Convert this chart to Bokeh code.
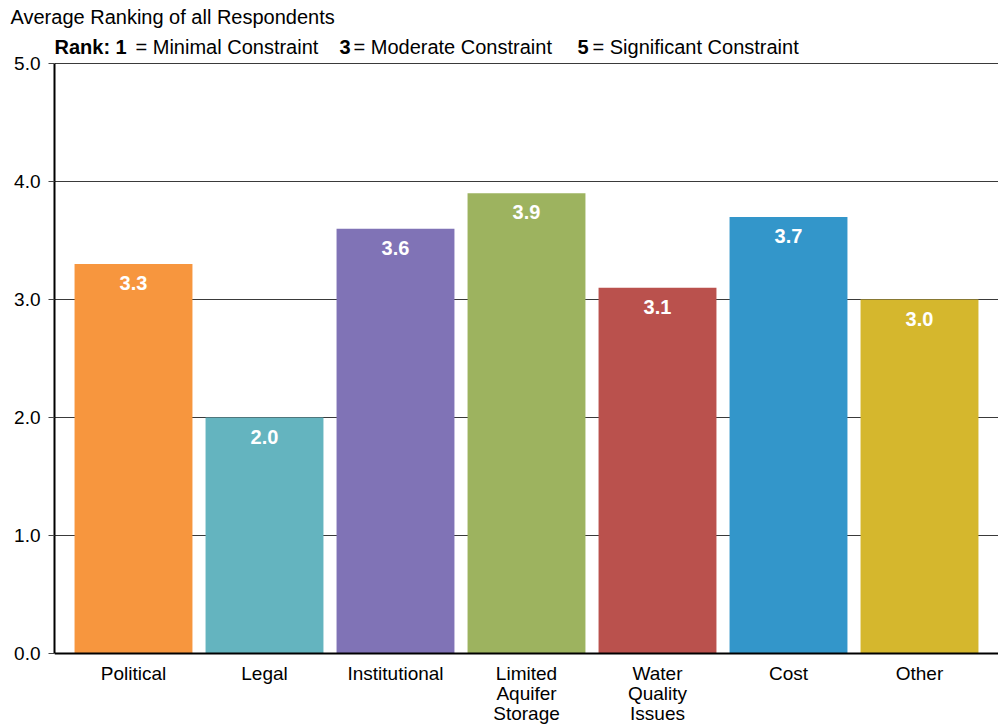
from bokeh.plotting import figure
from bokeh.models import Range1d, FixedTicker, ColumnDataSource, PrintfTickFormatter, Span
from bokeh.core.properties import value
from bokeh.embed import file_html
from bokeh.resources import INLINE

categories = ["Political", "Legal", "Institutional", "Limited\nAquifer\nStorage",
              "Water\nQuality\nIssues", "Cost", "Other"]
scores = [3.3, 2.0, 3.6, 3.9, 3.1, 3.7, 3.0]
bar_colors = ["#F7963E", "#64B4BF", "#8073B6", "#9DB35F", "#BA514D", "#3396CA", "#D5B72D"]
y_ticks = [0, 1, 2, 3, 4, 5]
grid_ticks = [1, 2, 3, 4, 5]

title_text = "Average Ranking of all Respondents"
subtitle_parts = ["Rank: 1", "= Minimal Constraint", "3", "= Moderate Constraint",
                  "5", "= Significant Constraint"]
subtitle_styles = ["bold", "normal", "bold", "normal", "bold", "normal"]
FONT = "Liberation Sans"

W, H = 998, 725
LEFT, TOP = 54, 30          # frame left / top in pixels
Y0_PX, Y5_PX = 653, 63      # pixel rows of value 0 and value 5
PX_PER_UNIT = (Y0_PX - Y5_PX) / 5.0
CAT_PX = 131.0              # pixels per category
FIRST_CENTER = 133          # pixel column of first category center

x_start = (LEFT - FIRST_CENTER) / CAT_PX
x_end = (W - FIRST_CENTER) / CAT_PX
y_start = -(H - Y0_PX) / PX_PER_UNIT
y_end = 5 + (Y5_PX - TOP) / PX_PER_UNIT

xs = list(range(len(categories)))
src = ColumnDataSource(dict(x=xs, top=scores, color=bar_colors, cat=categories,
                            base=[0] * len(xs),
                            label=[f"{v:.1f}" for v in scores]))

p = figure(width=W, height=H, output_backend="svg", toolbar_location=None,
           x_range=Range1d(x_start, x_end), y_range=Range1d(y_start, y_end),
           min_border_left=LEFT, min_border_right=0, min_border_top=TOP, min_border_bottom=0)
p.outline_line_color = None

# title (outside the frame, above)
p.title.text = title_text
p.title.align = "left"
p.title.offset = -44
p.title.standoff = 6
p.title.text_font = FONT
p.title.text_font_size = "20px"
p.title.text_font_style = "normal"
p.title.text_color = "black"

# bars and values
p.vbar(x="x", top="top", width=0.9, fill_color="color", line_color=None, source=src)
p.text(x="x", y="top", text="label", source=src, text_align="center",
       text_baseline="alphabetic", y_offset=19, text_color="white",
       text_font_style="bold", text_font_size="20px", text_font=value(FONT))

# category labels below the baseline
p.text(x="x", y="base", text="cat", source=src, text_align="center",
       text_baseline="top", y_offset=9, text_color="black", text_line_height=0.97,
       text_font_size="19px", text_font=value(FONT))

# rank legend line (inside the frame, above value 5)
def px_x(px):
    return (px - FIRST_CENTER) / CAT_PX

def px_y(py):
    return 5 + (Y5_PX - py) / PX_PER_UNIT

sub_x = [54, 135, 339, 353, 577, 592]
for txt, style, xp in zip(subtitle_parts, subtitle_styles, sub_x):
    p.text(x=[px_x(xp)], y=[px_y(46)], text=[txt], text_font=value(FONT),
           text_font_style=style, text_font_size="20px", text_color="black",
           text_baseline="alphabetic")

# grid
p.xgrid.visible = False
p.ygrid.ticker = FixedTicker(ticks=grid_ticks)
p.ygrid.grid_line_color = "#3a3a3a"
p.ygrid.grid_line_width = 1.2

# baseline (x axis line)
p.add_layout(Span(location=0, dimension="width", line_color="black", line_width=2))
p.xaxis.visible = False

# y axis
p.yaxis.bounds = (0, 5)
p.yaxis.ticker = FixedTicker(ticks=y_ticks)
p.yaxis.formatter = PrintfTickFormatter(format="%.1f")
p.yaxis.axis_line_color = "black"
p.yaxis.axis_line_width = 2
p.yaxis.major_tick_out = 6
p.yaxis.major_tick_in = 0
p.yaxis.major_tick_line_color = "#444444"
p.yaxis.minor_tick_line_color = None
p.yaxis.major_label_standoff = 8
p.yaxis.major_label_text_font = FONT
p.yaxis.major_label_text_font_size = "19px"
p.yaxis.major_label_text_color = "black"

open("out.html", "w").write(file_html(p, INLINE))
